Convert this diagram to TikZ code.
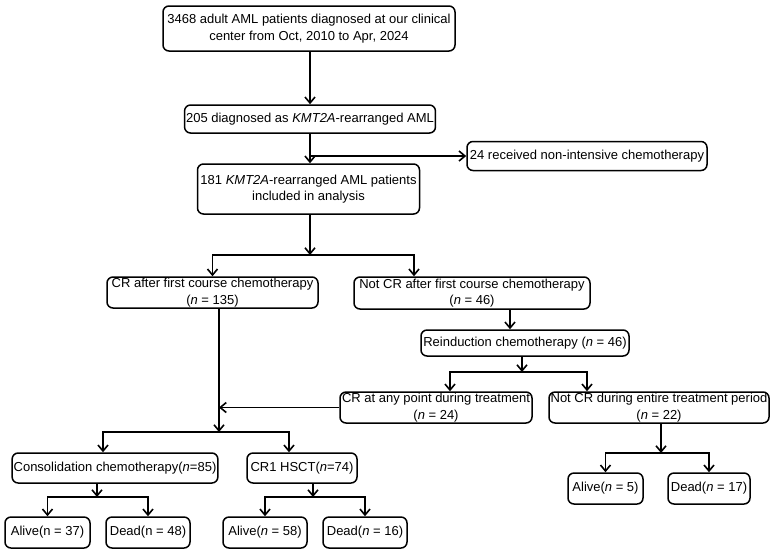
\documentclass[tikz,border=0pt]{standalone}
\usepackage{fontspec}
\setmainfont{Liberation Sans}
\usetikzlibrary{arrows.meta}

\begin{document}
\begin{tikzpicture}[x=1pt, y=-1pt,
    font=\fontsize{13}{16.5}\selectfont,
    box/.style={draw, line width=1.5pt, rounded corners=6pt, align=center,
        inner xsep=1.5pt, inner ysep=1pt, minimum height=30pt},
    arr/.style={line width=1.6pt, -{Straight Barb[length=6pt,width=10pt]}}]
    \useasboundingbox (0,0) rectangle (775,558);

    \node[box, minimum width=292, minimum height=45] (all) at (309,28.5)
        {3468 adult AML patients diagnosed at our clinical\\center from Oct, 2010 to Apr, 2024};
    \node[box, minimum width=249, minimum height=28] (n205) at (310,119)
        {205 diagnosed as \textit{KMT2A}-rearranged AML};
    \node[box, minimum width=240, minimum height=29] (n24) at (587,156)
        {24 received non-intensive chemotherapy};
    \node[box, minimum width=222, minimum height=50] (n181) at (308.5,189)
        {181 \textit{KMT2A}-rearranged AML patients\\included in analysis};
    \node[box, minimum width=211, minimum height=31] (crA) at (212.5,292.5)
        {CR after first course chemotherapy\\(\textit{n} = 135)};
    \node[box, minimum width=236, minimum height=32] (notA) at (472,293)
        {Not CR after first course chemotherapy\\(\textit{n} = 46)};
    \node[box, minimum width=208, minimum height=26] (reind) at (525,343)
        {Reinduction chemotherapy (\textit{n} = 46)};
    \node[box, minimum width=192, minimum height=31] (crB) at (436,407.5)
        {CR at any point during treatment\\(\textit{n} = 24)};
    \node[box, minimum width=220, minimum height=31] (notB) at (659,407.5)
        {Not CR during entire treatment period\\(\textit{n} = 22)};
    \node[box, minimum width=202] (cons) at (115,468)
        {Consolidation chemotherapy(\textit{n}=85)};
    \node[box, minimum width=110] (hsct) at (302,468)
        {CR1 HSCT(\textit{n}=74)};
    \node[box, minimum width=85, minimum height=31] (alive1) at (47.5,532.5) {Alive(n = 37)};
    \node[box, minimum width=84, minimum height=31] (dead1) at (148,532.5) {Dead(n = 48)};
    \node[box, minimum width=84, minimum height=31] (alive2) at (265,532.5) {Alive(\textit{n} = 58)};
    \node[box, minimum width=84, minimum height=31] (dead2) at (365,532.5) {Dead(\textit{n} = 16)};
    \node[box, minimum width=75, minimum height=31] (alive3) at (605.5,488.5) {Alive(\textit{n} = 5)};
    \node[box, minimum width=82, minimum height=31] (dead3) at (709,488.5) {Dead(\textit{n} = 17)};

    \coordinate (j1) at (310,156);
    \coordinate (j2) at (310,255);
    \coordinate (j3) at (522,372);
    \coordinate (j4) at (219,432);
    \coordinate (j5) at (97,497);
    \coordinate (j6) at (313,497);
    \coordinate (j7) at (661,453);
    \coordinate (k1) at (414,0);
    \coordinate (k2) at (510,0);
    \coordinate (k3) at (450,0);
    \coordinate (k4) at (587,0);
    \coordinate (k5) at (103,0);
    \coordinate (k6) at (289,0);

    \draw[arr] (all.south -| j1) -- (n205.north -| j1);
    \draw[arr] (n205.south -| j1) -- (n181.north -| j1);
    \draw[arr] (j1) -- (n24.west);
    \draw[arr] (n181.south -| j2) -- (j2);
    \draw[arr] (j2) -| (crA.north);
    \draw[arr] (j2) -| (notA.north -| k1);
    \draw[arr] (notA.south -| k2) -- (reind.north -| k2);
    \draw[arr] (reind.south -| j3) -- (j3);
    \draw[arr] (j3) -| (crB.north -| k3);
    \draw[arr] (j3) -| (notB.north -| k4);
    \draw[arr] (crA.south -| j4) -- (j4);
    \draw[arr] (crB.west) -- (crB.west -| j4);
    \draw[arr] (j4) -| (cons.north -| k5);
    \draw[arr] (j4) -| (hsct.north -| k6);
    \draw[arr] (cons.south -| j5) -- (j5);
    \draw[arr] (j5) -| (alive1.north);
    \draw[arr] (j5) -| (dead1.north);
    \draw[arr] (hsct.south -| j6) -- (j6);
    \draw[arr] (j6) -| (alive2.north);
    \draw[arr] (j6) -| (dead2.north);
    \draw[arr] (notB.south -| j7) -- (j7);
    \draw[arr] (j7) -| (alive3.north);
    \draw[arr] (j7) -| (dead3.north);
\end{tikzpicture}
\end{document}
